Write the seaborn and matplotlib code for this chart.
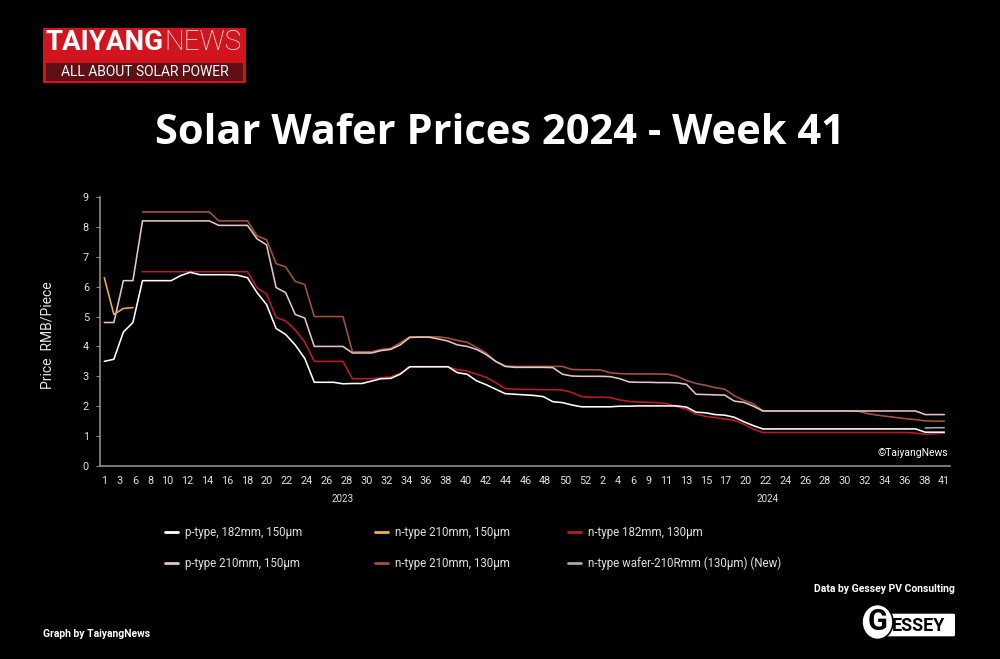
import numpy as np
import pandas as pd
import matplotlib
matplotlib.use("Agg")
import matplotlib.pyplot as plt
import matplotlib.transforms as mtransforms
from matplotlib.lines import Line2D
from matplotlib.patches import Rectangle, FancyBboxPatch, Ellipse
import seaborn as sns

# ---------------- data ----------------
weeks_2023 = [1, 2, 3, 5, 6, 7, 8, 9, 10, 11, 12, 13, 14, 15, 16, 17, 18, 19, 20, 21,
              22, 23, 24, 25, 26, 27, 28, 29, 30, 31, 32, 33, 34, 35, 36, 37, 38, 39, 40,
              41, 42, 43, 44, 45, 46, 47, 48, 49, 50, 51, 52]
weeks_2024 = [1, 2, 3, 4, 5, 6, 8, 9, 10, 11, 12, 13, 14, 15, 16, 17, 19, 20, 21, 22,
              23, 24, 25, 26, 27, 28, 29, 30, 31, 32, 33, 34, 35, 36, 37, 38, 40, 41]
categories = [f"2023-W{w:02d}" for w in weeks_2023] + [f"2024-W{w:02d}" for w in weeks_2024]

N = np.nan
p182_150 = [3.50, 3.57, 4.48, 4.80, 6.20, 6.20, 6.20, 6.20, 6.37, 6.48,
            6.40, 6.40, 6.40, 6.40, 6.38, 6.30, 5.80, 5.40, 4.60, 4.40,
            4.05, 3.60, 2.80, 2.80, 2.80, 2.75, 2.76, 2.76, 2.84, 2.92,
            2.93, 3.07, 3.32, 3.32, 3.32, 3.32, 3.32, 3.12, 3.07, 2.85,
            2.72, 2.57, 2.42, 2.40, 2.38, 2.36, 2.32, 2.15, 2.12, 2.04,
            1.98, 1.98, 1.98, 1.98, 2.00, 2.00, 2.01, 2.01, 2.01, 2.01,
            2.01, 1.97, 1.80, 1.78, 1.72, 1.70, 1.63, 1.48, 1.35, 1.24,
            1.24, 1.24, 1.24, 1.24, 1.24, 1.24, 1.24, 1.24, 1.24, 1.24,
            1.24, 1.24, 1.24, 1.24, 1.24, 1.24, 1.13, 1.13, 1.13]
n182_130 = [N, N, N, N, 6.50, 6.50, 6.50, 6.50, 6.50, 6.50,
            6.50, 6.50, 6.50, 6.50, 6.50, 6.50, 5.96, 5.75, 4.97, 4.85,
            4.55, 4.15, 3.50, 3.50, 3.50, 3.50, 2.92, 2.92, 2.92, 2.95,
            2.98, 3.10, 3.32, 3.32, 3.32, 3.32, 3.32, 3.22, 3.18, 3.07,
            2.97, 2.79, 2.59, 2.57, 2.56, 2.56, 2.55, 2.55, 2.54, 2.46,
            2.32, 2.30, 2.30, 2.29, 2.21, 2.16, 2.14, 2.13, 2.12, 2.08,
            1.98, 1.90, 1.73, 1.66, 1.62, 1.57, 1.53, 1.40, 1.23, 1.12,
            1.12, 1.12, 1.12, 1.12, 1.12, 1.12, 1.12, 1.12, 1.12, 1.12,
            1.12, 1.12, 1.12, 1.12, 1.12, 1.10, 1.06, 1.08, 1.10]
p210_150 = [4.80, 4.80, 6.20, 6.20, 8.20, 8.20, 8.20, 8.20, 8.20, 8.20,
            8.20, 8.20, 8.05, 8.05, 8.05, 8.05, 7.60, 7.40, 5.97, 5.80,
            5.07, 4.95, 4.00, 4.00, 4.00, 4.00, 3.78, 3.78, 3.78, 3.86,
            3.90, 4.05, 4.30, 4.31, 4.31, 4.25, 4.18, 4.05, 4.00, 3.90,
            3.73, 3.50, 3.33, 3.30, 3.30, 3.30, 3.30, 3.29, 3.07, 3.01,
            3.00, 3.00, 3.00, 2.99, 2.92, 2.81, 2.80, 2.80, 2.79, 2.79,
            2.78, 2.73, 2.40, 2.39, 2.38, 2.37, 2.17, 2.13, 2.00, 1.84,
            1.84, 1.84, 1.84, 1.84, 1.84, 1.84, 1.84, 1.84, 1.84, 1.84,
            1.84, 1.84, 1.84, 1.84, 1.84, 1.84, 1.72, 1.72, 1.72]
n210_130 = [N, N, N, N, 8.50, 8.50, 8.50, 8.50, 8.50, 8.50,
            8.50, 8.50, 8.20, 8.20, 8.20, 8.20, 7.70, 7.57, 6.77, 6.66,
            6.18, 6.07, 5.00, 5.00, 5.00, 5.00, 3.82, 3.82, 3.82, 3.90,
            3.93, 4.12, 4.32, 4.32, 4.32, 4.32, 4.28, 4.20, 4.14, 3.97,
            3.78, 3.50, 3.35, 3.33, 3.33, 3.33, 3.33, 3.33, 3.33, 3.23,
            3.22, 3.22, 3.21, 3.12, 3.09, 3.08, 3.08, 3.08, 3.08, 3.07,
            3.00, 2.86, 2.76, 2.70, 2.62, 2.57, 2.35, 2.20, 2.08, 1.84,
            1.84, 1.84, 1.84, 1.84, 1.84, 1.84, 1.84, 1.84, 1.84, 1.83,
            1.75, 1.70, 1.66, 1.62, 1.58, 1.55, 1.51, 1.50, 1.50]
n210_150_weeks = ["2023-W01", "2023-W02", "2023-W03", "2023-W05"]
n210_150 = [6.30, 5.07, 5.27, 5.30]
n210r_weeks = ["2024-W38", "2024-W40", "2024-W41"]
n210r_130 = [1.27, 1.28, 1.28]

tick_labels = ["1", "3", "6", "8", "10", "12", "14", "16", "18", "20", "22", "24", "26",
               "28", "30", "32", "34", "36", "38", "40", "42", "44", "46", "48", "50", "52",
               "2", "4", "6", "9", "11", "13", "15", "17", "20", "22", "24", "26", "28",
               "30", "32", "34", "36", "38", "41"]
y_ticks = [0, 1, 2, 3, 4, 5, 6, 7, 8, 9]

names = ["p-type, 182mm, 150µm", "n-type 210mm, 150µm", "n-type 182mm, 130µm",
         "p-type 210mm, 150µm", "n-type 210mm, 130µm", "n-type wafer-210Rmm (130µm) (New)"]
colors = ["#ffffff", "#f0b040", "#c0182a", "#e8c4c2", "#a5523c", "#a8a8a8"]
series_data = [(categories, p182_150), (n210_150_weeks, n210_150), (categories, n182_130),
               (categories, p210_150), (categories, n210_130), (n210r_weeks, n210r_130)]

rows = []
for name, (cats, vals) in zip(names, series_data):
    for c, v in zip(cats, vals):
        if not np.isnan(v):
            rows.append({"series": name, "week": c, "price": v})
df = pd.DataFrame(rows)
cat_index = {c: i for i, c in enumerate(categories)}
df["pos"] = df["week"].map(cat_index)

# ---------------- style ----------------
sns.set_theme(style="dark")
plt.rcParams["font.family"] = ["Roboto", "DejaVu Sans"]
plt.rcParams["figure.facecolor"] = "black"
plt.rcParams["axes.facecolor"] = "black"
plt.rcParams["text.color"] = "white"

fig = plt.figure(figsize=(10, 6.59), dpi=100, facecolor="black")
ax = fig.add_axes([0.100, 0.2929, 0.850, 0.4082])
ax.set_facecolor("black")

draw_order = [4, 3, 2, 0, 1, 5]
for k in draw_order:
    sub = df[df["series"] == names[k]]
    sns.lineplot(data=sub, x="pos", y="price", color=colors[k], linewidth=1.15,
                 ax=ax, legend=False, estimator=None, sort=True)

ax.set_xlim(-0.45, len(categories) - 1 + 0.6)
ax.set_ylim(0, 9)
ax.set_xlabel("")
ax.set_ylabel("")
ax.grid(False)

# x tick labels laid out with equal gaps between label boxes
gaps = [10.5 + 2.25 * (len(a) + len(b)) for a, b in zip(tick_labels[:-1], tick_labels[1:])]
cum = np.concatenate([[0.0], np.cumsum(gaps)])
tick_pos = cum / cum[-1] * (len(categories) - 1)
ax.set_xticks(tick_pos)
ax.set_xticklabels(tick_labels)
ax.set_yticks(y_ticks)
ax.set_yticklabels([str(v) for v in y_ticks])
ax.tick_params(axis="x", length=0, pad=7, labelsize=7.8, labelcolor="#e0e0e0")
ax.tick_params(axis="y", length=3, width=0.8, color="#8c8c8c", pad=5,
               labelsize=7.8, labelcolor="#e0e0e0", left=True)

for side in ["top", "right"]:
    ax.spines[side].set_visible(False)
for side in ["left", "bottom"]:
    ax.spines[side].set_visible(True)
    ax.spines[side].set_color("#8c8c8c")
    ax.spines[side].set_linewidth(1.2)

# year labels
trans = mtransforms.blended_transform_factory(ax.transData, fig.transFigure)
for year in ["2023", "2024"]:
    idxs = [i for i, c in enumerate(categories) if c.startswith(year)]
    ax.text(np.mean(idxs), 1 - 499 / 659, year, transform=trans, ha="center", va="center",
            fontsize=7, color="#e0e0e0")

ax.text(0.9976, 0.048, "©TaiyangNews", transform=ax.transAxes, ha="right", va="center",
        fontsize=7.5, color="white")

# y label
fig.text(0.048, 1 - 335 / 659, "Price  RMB/Piece", rotation=90, ha="center", va="center",
         fontsize=10, color="#e6e6e6")

# title
fig.text(0.5, 1 - 133 / 659, "Solar Wafer Prices 2024 - Week 41", ha="center", va="center",
         fontsize=30, fontweight="bold", color="white", family=["Open Sans", "DejaVu Sans"])

# logo
fig.patches.append(Rectangle((0.043, 1 - 83 / 659), 0.203, 55 / 659, transform=fig.transFigure,
                             facecolor="#d2151d", edgecolor="none"))
fig.patches.append(Rectangle((0.046, 1 - 81 / 659), 0.197, 18 / 659, transform=fig.transFigure,
                             facecolor="#5e1014", edgecolor="none"))
fig.text(0.163, 1 - 43 / 659, "TAIYANG", ha="right", va="center", fontsize=20,
         fontweight="bold", color="white")
fig.text(0.164, 1 - 43 / 659, "NEWS", ha="left", va="center", fontsize=20,
         fontweight="light", color="white")
fig.text(0.1445, 1 - 72.5 / 659, "ALL ABOUT SOLAR POWER", ha="center", va="center",
         fontsize=10, color="white")

# legend: three columns of two entries
col_x = [0.165, 0.375, 0.568]
for c in range(3):
    hs = []
    for r in range(2):
        k = r * 3 + c
        hs.append(Line2D([], [], color=colors[k], linewidth=2.0, label=names[k]))
    fig.legend(handles=hs, loc="center left", bbox_to_anchor=(col_x[c], 1 - 548 / 659),
               frameon=False, fontsize=8.3, labelcolor="#e0e0e0", handlelength=1.1,
               handletextpad=0.6, labelspacing=1.55, borderpad=0, borderaxespad=0)

# footer
fig.text(0.955, 1 - 589 / 659, "Data by Gessey PV Consulting", ha="right", va="center",
         fontsize=7.5, fontweight="bold", color="white")
fig.text(0.043, 1 - 634 / 659, "Graph by TaiyangNews", ha="left", va="center",
         fontsize=7.5, fontweight="bold", color="white")

# Gessey logo
fig.patches.append(FancyBboxPatch((0.877, 1 - 635 / 659), 0.076, 20 / 659,
                                  boxstyle="round,pad=0.002", transform=fig.transFigure,
                                  facecolor="white", edgecolor="none"))
fig.patches.append(Ellipse((0.8775, 1 - 622 / 659), 0.031, 35 / 659, transform=fig.transFigure,
                           facecolor="white", edgecolor="black", linewidth=1.2))
fig.text(0.8775, 1 - 622 / 659, "G", ha="center", va="center", fontsize=21,
         fontweight="bold", color="black")
fig.text(0.892, 1 - 626 / 659, "ESSEY", ha="left", va="center", fontsize=13,
         fontweight="bold", color="black")

fig.savefig("out.png", dpi=100, facecolor="black")
